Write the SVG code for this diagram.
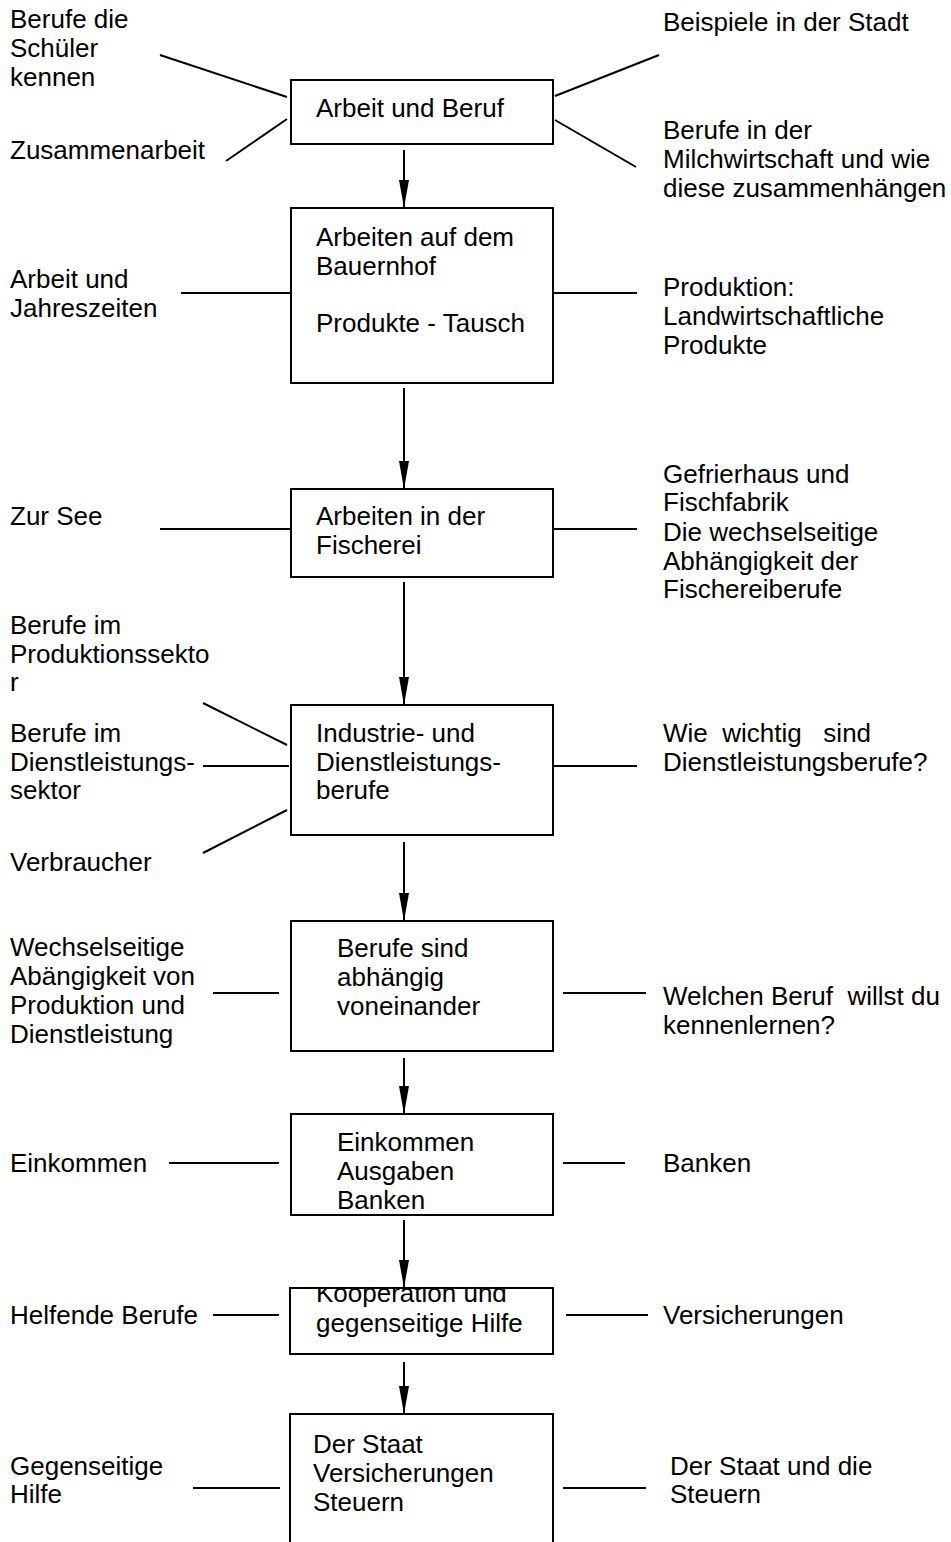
<svg xmlns="http://www.w3.org/2000/svg" width="951" height="1542" viewBox="0 0 951 1542">
<style>
text{font-family:"Liberation Sans",Arial,sans-serif;font-size:26px;fill:#000}
.box{fill:#fff;stroke:#000;stroke-width:2}
.ln{stroke:#000;stroke-width:2;fill:none}
</style>
<defs>
<marker id="ah" markerUnits="userSpaceOnUse" viewBox="0 0 28 10" refX="28" refY="5" markerWidth="28" markerHeight="10" orient="auto">
<path d="M0,0 L28,5 L0,10 z" fill="#000"/>
</marker>
<clipPath id="c7"><rect x="290" y="1289" width="263" height="65"/></clipPath>
</defs>
<rect width="951" height="1542" fill="#fff"/>
<g id="connectors">
<line class="ln" x1="404" y1="150" x2="404" y2="208" marker-end="url(#ah)"/>
<line class="ln" x1="404" y1="388" x2="404" y2="489" marker-end="url(#ah)"/>
<line class="ln" x1="404" y1="582" x2="404" y2="705" marker-end="url(#ah)"/>
<line class="ln" x1="404" y1="842" x2="404" y2="921" marker-end="url(#ah)"/>
<line class="ln" x1="404" y1="1058" x2="404" y2="1114" marker-end="url(#ah)"/>
<line class="ln" x1="404" y1="1220" x2="404" y2="1288" marker-end="url(#ah)"/>
<line class="ln" x1="404" y1="1362" x2="404" y2="1414" marker-end="url(#ah)"/>
<line class="ln" x1="160" y1="55" x2="287" y2="97"/>
<line class="ln" x1="226" y1="161" x2="287" y2="119"/>
<line class="ln" x1="555" y1="96" x2="659" y2="55"/>
<line class="ln" x1="555" y1="120" x2="636" y2="167"/>
<line class="ln" x1="181" y1="293" x2="291" y2="293"/>
<line class="ln" x1="553" y1="293" x2="637" y2="293"/>
<line class="ln" x1="160" y1="529" x2="291" y2="529"/>
<line class="ln" x1="553" y1="529" x2="637" y2="529"/>
<line class="ln" x1="203" y1="703" x2="287" y2="745"/>
<line class="ln" x1="203" y1="766" x2="289" y2="766"/>
<line class="ln" x1="203" y1="853" x2="287" y2="810"/>
<line class="ln" x1="553" y1="766" x2="637" y2="766"/>
<line class="ln" x1="213" y1="993" x2="279" y2="993"/>
<line class="ln" x1="563" y1="993" x2="646" y2="993"/>
<line class="ln" x1="169" y1="1163" x2="279" y2="1163"/>
<line class="ln" x1="563" y1="1163" x2="625" y2="1163"/>
<line class="ln" x1="213" y1="1315" x2="279" y2="1315"/>
<line class="ln" x1="566" y1="1315" x2="648" y2="1315"/>
<line class="ln" x1="193" y1="1488" x2="280" y2="1488"/>
<line class="ln" x1="563" y1="1488" x2="646" y2="1488"/>
</g>
<g id="n1"><rect class="box" x="291" y="80" width="262" height="64"/><text x="316" y="117">Arbeit und Beruf</text></g>
<g id="n2"><rect class="box" x="291" y="208" width="262" height="175"/><text x="316" y="246">Arbeiten auf dem</text><text x="316" y="275">Bauernhof</text><text x="316" y="332">Produkte - Tausch</text></g>
<g id="n3"><rect class="box" x="291" y="489" width="262" height="88"/><text x="316" y="525">Arbeiten in der</text><text x="316" y="554">Fischerei</text></g>
<g id="n4"><rect class="box" x="291" y="705" width="262" height="130"/><text x="316" y="742">Industrie- und</text><text x="316" y="771">Dienstleistungs-</text><text x="316" y="799">berufe</text></g>
<g id="n5"><rect class="box" x="291" y="921" width="262" height="130"/><text x="337" y="957">Berufe sind</text><text x="337" y="986">abhängig</text><text x="337" y="1015">voneinander</text></g>
<g id="n6"><rect class="box" x="291" y="1114" width="262" height="101"/><text x="337" y="1151">Einkommen</text><text x="337" y="1180">Ausgaben</text><text x="337" y="1209">Banken</text></g>
<g id="n7"><rect class="box" x="290" y="1288" width="263" height="66"/><text x="316" y="1302" clip-path="url(#c7)">Kooperation und</text><text x="316" y="1332">gegenseitige Hilfe</text></g>
<g id="n8"><rect class="box" x="290" y="1414" width="263" height="140"/><text x="313" y="1453">Der Staat</text><text x="313" y="1482">Versicherungen</text><text x="313" y="1511">Steuern</text></g>
<g id="labels-left">
<text x="10" y="28">Berufe die</text><text x="10" y="57">Schüler</text><text x="10" y="86">kennen</text>
<text x="10" y="159">Zusammenarbeit</text>
<text x="10" y="288">Arbeit und</text><text x="10" y="317">Jahreszeiten</text>
<text x="10" y="525">Zur See</text>
<text x="10" y="634">Berufe im</text><text x="10" y="663">Produktionssekto</text><text x="10" y="691">r</text>
<text x="10" y="742">Berufe im</text><text x="10" y="771">Dienstleistungs-</text><text x="10" y="799">sektor</text>
<text x="10" y="871">Verbraucher</text>
<text x="10" y="956">Wechselseitige</text><text x="10" y="985">Abängigkeit von</text><text x="10" y="1014">Produktion und</text><text x="10" y="1043">Dienstleistung</text>
<text x="10" y="1172">Einkommen</text>
<text x="10" y="1324">Helfende Berufe</text>
<text x="10" y="1475">Gegenseitige</text><text x="10" y="1503">Hilfe</text>
</g>
<g id="labels-right">
<text x="663" y="31">Beispiele in der Stadt</text>
<text x="663" y="139">Berufe in der</text><text x="663" y="168">Milchwirtschaft und wie</text><text x="663" y="197">diese zusammenhängen</text>
<text x="663" y="296">Produktion:</text><text x="663" y="325">Landwirtschaftliche</text><text x="663" y="354">Produkte</text>
<text x="663" y="483">Gefrierhaus und</text><text x="663" y="511">Fischfabrik</text><text x="663" y="541">Die wechselseitige</text><text x="663" y="570">Abhängigkeit der</text><text x="663" y="598">Fischereiberufe</text>
<text x="663" y="742" xml:space="preserve">Wie  wichtig   sind</text><text x="663" y="771">Dienstleistungsberufe?</text>
<text x="663" y="1005" xml:space="preserve">Welchen Beruf  willst du</text><text x="663" y="1034">kennenlernen?</text>
<text x="663" y="1172">Banken</text>
<text x="663" y="1324">Versicherungen</text>
<text x="670" y="1475">Der Staat und die</text><text x="670" y="1503">Steuern</text>
</g>
</svg>
